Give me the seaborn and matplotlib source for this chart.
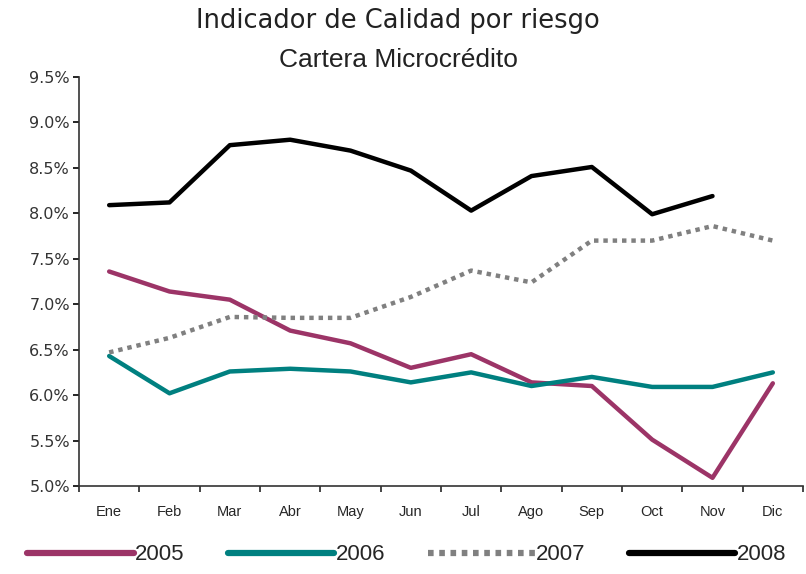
import pandas as pd
import numpy as np
import matplotlib.pyplot as plt
import seaborn as sns
from matplotlib.ticker import FixedLocator, PercentFormatter

meses = ["Ene", "Feb", "Mar", "Abr", "May", "Jun", "Jul", "Ago", "Sep", "Oct", "Nov", "Dic"]

v_2005 = [7.36, 7.14, 7.05, 6.71, 6.57, 6.30, 6.45, 6.14, 6.10, 5.51, 5.09, 6.13]
v_2006 = [6.43, 6.02, 6.26, 6.29, 6.26, 6.14, 6.25, 6.10, 6.20, 6.09, 6.09, 6.25]
v_2007 = [6.47, 6.63, 6.86, 6.85, 6.85, 7.08, 7.37, 7.24, 7.70, 7.70, 7.86, 7.70]
v_2008 = [8.09, 8.12, 8.75, 8.81, 8.69, 8.47, 8.03, 8.41, 8.51, 7.99, 8.19, np.nan]

years = ["2005", "2006", "2007", "2008"]
colors = {"2005": "#9c3467", "2006": "#008080", "2007": "#808080", "2008": "#000000"}


def build_df():
    rows = []
    for year, vals in zip(years, [v_2005, v_2006, v_2007, v_2008]):
        for i, v in enumerate(vals):
            rows.append({"mes": i, "valor": v, "anio": year})
    return pd.DataFrame(rows)


def main():
    df = build_df()
    sns.set_style("ticks")
    plt.rcParams["font.family"] = ["Liberation Sans", "DejaVu Sans"]

    fig = plt.figure(figsize=(8.06, 5.74), dpi=100)
    ax = fig.add_axes([79 / 806, 1 - 486 / 574, (803 - 79) / 806, (486 - 77) / 574])

    sns.lineplot(data=df, x="mes", y="valor", hue="anio", palette=colors,
                 style="anio", dashes={"2005": "", "2006": "", "2007": (1.0, 1.1), "2008": ""},
                 linewidth=3.2, ax=ax, legend=False)

    ax.set_xlim(-0.5, 11.5)
    ax.set_ylim(5.0, 9.5)
    ax.set_yticks(np.arange(5.0, 9.51, 0.5))
    ax.yaxis.set_major_formatter(PercentFormatter(decimals=1))
    ax.set_xticks(np.arange(-0.5, 12, 1))
    ax.set_xticklabels([])
    ax.xaxis.set_minor_locator(FixedLocator(range(12)))
    ax.set_xticklabels(meses, minor=True)
    ax.tick_params(axis="x", which="minor", length=0, pad=14, labelsize=10.5)
    ax.tick_params(axis="x", which="major", length=4.5, width=1.2, direction="out")
    ax.tick_params(axis="y", length=4.5, width=1.2, pad=2, colors="#000000")
    for lab in ax.get_yticklabels():
        lab.set_fontfamily("DejaVu Sans")
        lab.set_fontsize(11.5)
        lab.set_color("#333333")
    ax.set_xlabel("")
    ax.set_ylabel("")
    for s in ["top", "right"]:
        ax.spines[s].set_visible(False)
    for s in ["left", "bottom"]:
        ax.spines[s].set_linewidth(1.2)
        ax.spines[s].set_color("#333333")

    fig.text(398 / 806, 1 - 21 / 574, "Indicador de Calidad por riesgo", ha="center", va="center",
             fontsize=18.5, color="#222222", family="DejaVu Sans")
    fig.text(398 / 806, 1 - 60 / 574, "Cartera Microcrédito", ha="center", va="center",
             fontsize=19, color="#222222")

    handles = [
        plt.Line2D([], [], color=colors["2005"], lw=4.5, solid_capstyle="round"),
        plt.Line2D([], [], color=colors["2006"], lw=4.5, solid_capstyle="round"),
        plt.Line2D([], [], color=colors["2007"], lw=4.5, dashes=(0.9, 0.9)),
        plt.Line2D([], [], color=colors["2008"], lw=4.5, solid_capstyle="round"),
    ]
    fig.legend(handles, years, loc="center left", bbox_to_anchor=(27 / 806, 1 - 555 / 574), ncol=4,
               frameon=False, fontsize=16, handlelength=4.8, handletextpad=0.05,
               columnspacing=1.95, borderpad=0, borderaxespad=0)

    fig.savefig("out.png", dpi=100)


if __name__ == "__main__":
    main()
